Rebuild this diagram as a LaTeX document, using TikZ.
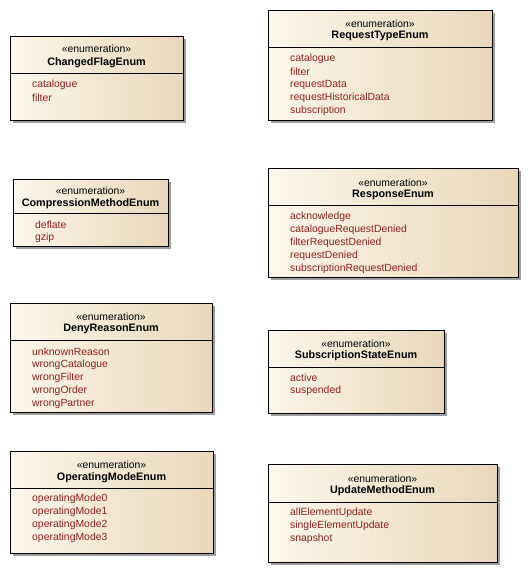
\documentclass[tikz,border=0pt]{standalone}
\usepackage{fontspec}
\setmainfont{Liberation Sans}
\usetikzlibrary{shadows}
\definecolor{boxl}{RGB}{253,246,234}
\definecolor{boxr}{RGB}{233,215,186}
\definecolor{lit}{RGB}{138,32,32}
\begin{document}
\begin{tikzpicture}[x=1pt,y=-1pt,
    enumbox/.style={draw=black,line width=0.7pt,anchor=north west,inner sep=0pt,
        left color=boxl,right color=boxr,
        drop shadow={shadow xshift=3pt,shadow yshift=-3pt,fill=black!38,opacity=1}},
    stereo/.style={inner sep=0pt,yshift=-1pt,font=\fontsize{10.4}{12}\selectfont},
    ename/.style={inner sep=0pt,yshift=-1pt,font=\fontsize{10.8}{12}\selectfont\bfseries},
    lit/.style={inner sep=0pt,anchor=west,yshift=-1pt,text=lit,font=\fontsize{10.4}{12}\selectfont}]
        \useasboundingbox (0,0) rectangle (531,572);
        % ChangedFlagEnum
        \node[enumbox,minimum width=173pt,minimum height=84pt] (changed) at (10,36) {};
        \draw ([yshift=-37pt]changed.north west) -- ([yshift=-37pt]changed.north east);
        \node[stereo] (changedst) at (96.5,48) {«enumeration»};
        \node[ename] (changedname) at (96.5,62) {ChangedFlagEnum};
        \node[lit] (changed1) at (32,84) {catalogue};
        \node[lit] (changed2) at (32,97) {filter};
        % RequestTypeEnum
        \node[enumbox,minimum width=224pt,minimum height=110pt] (reqtype) at (268,10) {};
        \draw ([yshift=-37pt]reqtype.north west) -- ([yshift=-37pt]reqtype.north east);
        \node[stereo] (reqtypest) at (380,23) {«enumeration»};
        \node[ename] (reqtypename) at (380,35) {RequestTypeEnum};
        \node[lit] (reqtype1) at (290,58) {catalogue};
        \node[lit] (reqtype2) at (290,71) {filter};
        \node[lit] (reqtype3) at (290,84) {requestData};
        \node[lit] (reqtype4) at (290,97) {requestHistoricalData};
        \node[lit] (reqtype5) at (290,110) {subscription};
        % CompressionMethodEnum
        \node[enumbox,minimum width=155pt,minimum height=67pt] (compr) at (13,179) {};
        \draw ([yshift=-34pt]compr.north west) -- ([yshift=-34pt]compr.north east);
        \node[stereo] (comprst) at (90.5,190) {«enumeration»};
        \node[ename] (comprname) at (90.5,203) {CompressionMethodEnum};
        \node[lit] (compr1) at (35,224) {deflate};
        \node[lit] (compr2) at (35,237) {gzip};
        % ResponseEnum
        \node[enumbox,minimum width=250pt,minimum height=109pt] (resp) at (268,168) {};
        \draw ([yshift=-37pt]resp.north west) -- ([yshift=-37pt]resp.north east);
        \node[stereo] (respst) at (393,182) {«enumeration»};
        \node[ename] (respname) at (393,194) {ResponseEnum};
        \node[lit] (resp1) at (290,216) {acknowledge};
        \node[lit] (resp2) at (290,229) {catalogueRequestDenied};
        \node[lit] (resp3) at (290,242) {filterRequestDenied};
        \node[lit] (resp4) at (290,255) {requestDenied};
        \node[lit] (resp5) at (290,268) {subscriptionRequestDenied};
        % DenyReasonEnum
        \node[enumbox,minimum width=202pt,minimum height=109pt] (deny) at (10,303) {};
        \draw ([yshift=-37pt]deny.north west) -- ([yshift=-37pt]deny.north east);
        \node[stereo] (denyst) at (111,316) {«enumeration»};
        \node[ename] (denyname) at (111,328) {DenyReasonEnum};
        \node[lit] (deny1) at (32,351) {unknownReason};
        \node[lit] (deny2) at (32,364) {wrongCatalogue};
        \node[lit] (deny3) at (32,377) {wrongFilter};
        \node[lit] (deny4) at (32,390) {wrongOrder};
        \node[lit] (deny5) at (32,403) {wrongPartner};
        % SubscriptionStateEnum
        \node[enumbox,minimum width=176pt,minimum height=83pt] (subst) at (268,330) {};
        \draw ([yshift=-37pt]subst.north west) -- ([yshift=-37pt]subst.north east);
        \node[stereo] (substst) at (356,343) {«enumeration»};
        \node[ename] (substname) at (356,355) {SubscriptionStateEnum};
        \node[lit] (subst1) at (290,377) {active};
        \node[lit] (subst2) at (290,390) {suspended};
        % OperatingModeEnum
        \node[enumbox,minimum width=203pt,minimum height=102pt] (opmode) at (10,451) {};
        \draw ([yshift=-37pt]opmode.north west) -- ([yshift=-37pt]opmode.north east);
        \node[stereo] (opmodest) at (111.5,464) {«enumeration»};
        \node[ename] (opmodename) at (111.5,477) {OperatingModeEnum};
        \node[lit] (opmode1) at (32,498) {operatingMode0};
        \node[lit] (opmode2) at (32,511) {operatingMode1};
        \node[lit] (opmode3) at (32,524) {operatingMode2};
        \node[lit] (opmode4) at (32,537) {operatingMode3};
        % UpdateMethodEnum
        \node[enumbox,minimum width=229pt,minimum height=98pt] (update) at (268,464) {};
        \draw ([yshift=-38pt]update.north west) -- ([yshift=-38pt]update.north east);
        \node[stereo] (updatest) at (382.5,478) {«enumeration»};
        \node[ename] (updatename) at (382.5,490) {UpdateMethodEnum};
        \node[lit] (update1) at (290,512) {allElementUpdate};
        \node[lit] (update2) at (290,525) {singleElementUpdate};
        \node[lit] (update3) at (290,538) {snapshot};
\end{tikzpicture}
\end{document}
